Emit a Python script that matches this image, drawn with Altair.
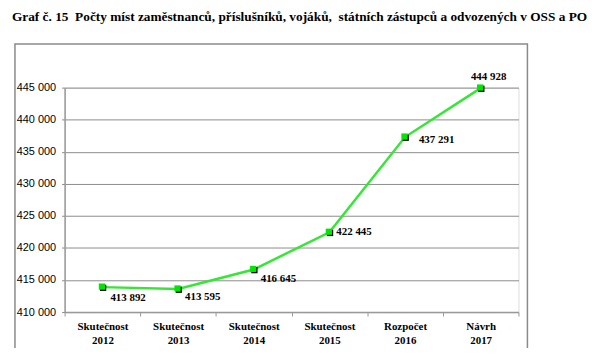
import altair as alt
import pandas as pd

categories = ["Skutečnost 2012", "Skutečnost 2013", "Skutečnost 2014",
              "Skutečnost 2015", "Rozpočet 2016", "Návrh 2017"]
values = [413892, 413595, 416645, 422445, 437291, 444928]
y_ticks = [410000, 415000, 420000, 425000, 430000, 435000, 440000, 445000]
title_text = "Graf č. 15\u00a0 Počty míst zaměstnanců, příslušníků, vojáků,\u00a0 státních zástupců a odvozených v OSS a PO"

labels = [f"{v:,}".replace(",", " ") for v in values]
df = pd.DataFrame({"cat": categories, "val": values, "lab": labels})

W, H = 457, 226

x_enc = alt.X("cat:N", sort=categories, title=None,
              scale=alt.Scale(paddingInner=0, paddingOuter=0),
              axis=alt.Axis(labelExpr="split(datum.label, ' ')", labelAngle=0,
                            labelFont="Liberation Serif", labelFontWeight="bold",
                            labelFontSize=11, labelLineHeight=14, labelColor="black",
                            labelPadding=5, tickBand="extent", tickSize=4,
                            tickColor="#999999", domainColor="#999999",
                            domainWidth=1.5, grid=False))
y_enc = alt.Y("val:Q", title=None,
              scale=alt.Scale(domain=[410000, 445000], nice=False, zero=False),
              axis=alt.Axis(values=y_ticks,
                            labelExpr="replace(format(datum.value, ','), ',', ' ')",
                            labelFont="Liberation Sans", labelFontSize=11,
                            labelColor="black", labelPadding=6, tickSize=3,
                            tickColor="#888888", domainColor="#999999",
                            domainWidth=1.5, grid=True, gridColor="#8c8c8c",
                            gridWidth=1))

base = alt.Chart(df)
first = alt.datum.cat == categories[0]

frame = base.mark_rect(fill=None, stroke="#8a8a8a", strokeWidth=1.5).encode(
    x=alt.value(-50), x2=alt.value(466), y=alt.value(-44), y2=alt.value(263)
).transform_filter(first)

title = base.mark_text(text=title_text, font="Liberation Serif", fontWeight="bold",
                       fontSize=13.4, color="black", align="left",
                       baseline="middle").encode(
    x=alt.value(-53), y=alt.value(-71)
).transform_filter(first)

line = base.mark_line(color="#33e833", strokeWidth=2.5).encode(x=x_enc, y=y_enc)

shadow = base.mark_point(shape="M-0.7,-0.7H1.1V1.1H-0.7Z", filled=True,
                         color="black", opacity=1, size=49).encode(x=x_enc, y=y_enc)
marker = base.mark_point(shape="M-1.05,-1.05H0.75V0.75H-1.05Z", filled=True,
                         color="#00e600", opacity=1, size=49).encode(x=x_enc, y=y_enc)

label_offsets = [(8, 11, "left"), (7, 8, "left"), (7, 10, "left"),
                 (7, 0, "left"), (14, 3, "left"), (8, -11, "center")]
text_layers = []
for c, (dx, dy, al) in zip(categories, label_offsets):
    text_layers.append(
        base.mark_text(font="Liberation Serif", fontWeight="bold", fontSize=11,
                       color="black", dx=dx, dy=dy, align=al, baseline="middle")
        .encode(x=x_enc, y=y_enc, text="lab:N")
        .transform_filter(alt.datum.cat == c)
    )

chart = alt.layer(frame, title, line, shadow, marker, *text_layers).properties(
    width=W, height=H,
    autosize=alt.AutoSizeParams(type="none"),
    padding={"left": 57, "top": 79, "right": 70, "bottom": 35},
).configure_view(stroke=None).configure(background="white")

chart.save("out.html", embed_options={"renderer": "svg", "actions": False})
